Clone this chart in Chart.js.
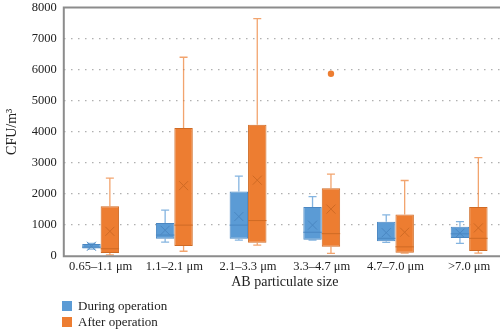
<!DOCTYPE html>
<html>
<head>
<meta charset="utf-8">
<script src="https://cdn.jsdelivr.net/npm/chart.js@4.4.1/dist/chart.umd.min.js"></script>
<style>
  html, body { margin: 0; padding: 0; background: #fff; overflow: hidden; }
  #wrap { position: relative; width: 506px; height: 330px; overflow: hidden; }
  #chart { position: absolute; left: 0; top: -7px; }
  #legend { position: absolute; left: 62px; top: 298px; font: 13px 'Liberation Serif', serif; color: #222; }
  #legend div { display: flex; align-items: center; height: 16px; }
  #legend span.sw { display: inline-block; width: 10px; height: 10px; margin-right: 6px; }
</style>
</head>
<body>
<div id="wrap">
  <canvas id="chart" width="506" height="337"></canvas>
  <div id="legend"></div>
</div>
<script>
// Box plot data (CFU/m3)
const categories = ['0.65–1.1 μm', '1.1–2.1 μm', '2.1–3.3 μm', '3.3–4.7 μm', '4.7–7.0 μm', '>7.0 μm'];
const seriesNames = ['During operation', 'After operation'];

const duringMin    = [230, 455, 520, 520, 445, 410];
const duringQ1     = [250, 560, 560, 530, 480, 585];
const duringMedian = [290, 680, 1000, 770, 575, 720];
const duringQ3     = [390, 1070, 2080, 1580, 1105, 950];
const duringMax    = [410, 1480, 2575, 1915, 1330, 1115];
const duringMean   = [320, 834, 1275, 1000, 757, 740];

const afterMin    = [40, 160, 357, 90, 100, 100];
const afterQ1     = [100, 330, 430, 300, 110, 170];
const afterMedian = [240, 1000, 1146, 725, 300, 575];
const afterQ3     = [1610, 4120, 4230, 2185, 1340, 1580];
const afterMax    = [2510, 6400, 7640, 2640, 2435, 3170];
const afterMean   = [800, 2270, 2445, 1515, 770, 910];
const afterOutliers = [[], [], [], [5870], [], []];

const yTicks = [0, 1000, 2000, 3000, 4000, 5000, 6000, 7000, 8000];

const FONT = "'Liberation Serif', 'Times New Roman', serif";
const BLUE = '#5B9BD5', BLUE_DARK = '#4A87C2', BLUE_LIGHT = 'rgba(91,155,213,0.75)';
const ORANGE = '#ED7D31', ORANGE_DARK = '#CF6A24', ORANGE_LIGHT = 'rgba(237,125,49,0.7)';

const stats = [
  { min: duringMin, med: duringMedian, max: duringMax, mean: duringMean, out: categories.map(() => []),
    line: BLUE_LIGHT, dark: BLUE_DARK, dot: BLUE },
  { min: afterMin, med: afterMedian, max: afterMax, mean: afterMean, out: afterOutliers,
    line: ORANGE_LIGHT, dark: ORANGE_DARK, dot: ORANGE }
];

// whiskers, medians, means and outliers drawn on top of the floating bars
const boxExtras = {
  id: 'boxExtras',
  afterDatasetsDraw(chart) {
    const ctx = chart.ctx;
    const y = chart.scales.y;
    stats.forEach((s, di) => {
      const meta = chart.getDatasetMeta(di);
      meta.data.forEach((bar, i) => {
        const { x, width, base } = bar.getProps(['x', 'width', 'base'], true);
        const top = Math.min(bar.y, base), bottom = Math.max(bar.y, base);
        const yMin = y.getPixelForValue(s.min[i]);
        const yMax = y.getPixelForValue(s.max[i]);
        ctx.save();
        ctx.strokeStyle = s.line;
        ctx.lineWidth = 1.3;
        ctx.beginPath();
        ctx.moveTo(x, top); ctx.lineTo(x, yMax);
        ctx.moveTo(x - 4, yMax); ctx.lineTo(x + 4, yMax);
        ctx.moveTo(x, bottom); ctx.lineTo(x, yMin);
        ctx.moveTo(x - 4, yMin); ctx.lineTo(x + 4, yMin);
        ctx.stroke();
        // median
        const yMed = y.getPixelForValue(s.med[i]);
        ctx.strokeStyle = s.dark;
        ctx.lineWidth = 1;
        ctx.beginPath();
        ctx.moveTo(x - width / 2, yMed); ctx.lineTo(x + width / 2, yMed);
        ctx.stroke();
        // mean marker
        const yMean = y.getPixelForValue(s.mean[i]);
        const r = 4.5;
        ctx.beginPath();
        ctx.moveTo(x - r, yMean - r); ctx.lineTo(x + r, yMean + r);
        ctx.moveTo(x + r, yMean - r); ctx.lineTo(x - r, yMean + r);
        ctx.stroke();
        // outliers
        ctx.fillStyle = s.dot;
        s.out[i].forEach(v => {
          ctx.beginPath();
          ctx.arc(x, y.getPixelForValue(v), 3.2, 0, Math.PI * 2);
          ctx.fill();
        });
        ctx.restore();
      });
    });
  },
  afterDraw(chart) {
    const { ctx, chartArea: a } = chart;
    ctx.save();
    ctx.strokeStyle = '#8c8c8c';
    ctx.lineWidth = 2;
    ctx.beginPath();
    ctx.moveTo(a.right + 5, a.top); ctx.lineTo(a.left, a.top);
    ctx.lineTo(a.left, a.bottom); ctx.lineTo(a.right + 5, a.bottom);
    ctx.stroke();
    ctx.restore();
  }
};

const ctx = document.getElementById('chart').getContext('2d');
new Chart(ctx, {
  type: 'bar',
  data: {
    labels: categories,
    datasets: [
      {
        label: seriesNames[0],
        data: categories.map((c, i) => [duringQ1[i], duringQ3[i]]),
        backgroundColor: BLUE,
        borderColor: BLUE_DARK,
        borderWidth: 1,
        borderSkipped: false,
      },
      {
        label: seriesNames[1],
        data: categories.map((c, i) => [afterQ1[i], afterQ3[i]]),
        backgroundColor: ORANGE,
        borderColor: ORANGE_DARK,
        borderWidth: 1,
        borderSkipped: false,
      }
    ]
  },
  options: {
    responsive: false,
    animation: false,
    categoryPercentage: 0.5,
    barPercentage: 1.0,
    layout: { padding: { top: 0, right: 0, bottom: 35, left: 0 } },
    scales: {
      x: {
        grid: { display: false, drawTicks: false },
        border: { display: false },
        ticks: { color: '#222', font: { family: FONT, size: 12.5 }, padding: 3, maxRotation: 0 },
        title: { display: true, text: 'AB particulate size', color: '#222', font: { family: FONT, size: 14 }, padding: { top: -3 } }
      },
      y: {
        min: 0,
        max: 8000,
        afterBuildTicks: (scale) => { scale.ticks = yTicks.map(v => ({ value: v })); },
        grid: {
          drawTicks: false,
          color: (c) => (c.tick && (c.tick.value === 0 || c.tick.value === 8000)) ? 'rgba(0,0,0,0)' : '#b0b0b0',
          lineWidth: 1.3
        },
        border: { display: false, dash: [1.5, 5.5] },
        ticks: { color: '#222', font: { family: FONT, size: 12.5 }, padding: 7, callback: (v) => String(v) },
        title: { display: true, text: 'CFU/m³', color: '#222', font: { family: FONT, size: 14 }, padding: { bottom: 4 } }
      }
    },
    plugins: {
      legend: { display: false },
      tooltip: { enabled: false }
    }
  },
  plugins: [boxExtras]
});

// legend in a vertical list below the chart
const legendEl = document.getElementById('legend');
[[seriesNames[0], BLUE], [seriesNames[1], ORANGE]].forEach(([name, col]) => {
  const row = document.createElement('div');
  row.innerHTML = `<span class="sw" style="background:${col}"></span>${name}`;
  legendEl.appendChild(row);
});
</script>
</body>
</html>
